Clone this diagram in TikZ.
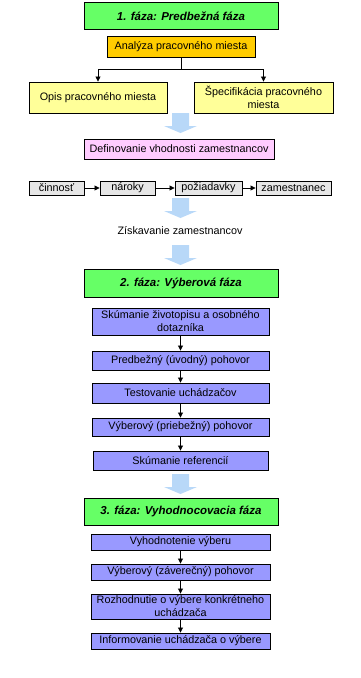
\documentclass[tikz,border=0pt]{standalone}
\usepackage{fontspec}
\setmainfont{Liberation Sans}
\usetikzlibrary{arrows.meta}
\definecolor{phasegreen}{HTML}{66FF66}
\definecolor{taskorange}{HTML}{FFCC00}
\definecolor{descyellow}{HTML}{FFFF99}
\definecolor{defpink}{HTML}{FFCCFF}
\definecolor{itemgray}{HTML}{E6E6E6}
\definecolor{stepblue}{HTML}{9999FF}
\definecolor{flowblue}{HTML}{B8D8F8}

\begin{document}
\begin{tikzpicture}[x=1pt, y=-1pt,
  phase/.style={draw=black, fill=phasegreen, line width=0.9pt, minimum width=194pt, minimum height=27pt, inner sep=0pt, font=\fontsize{11.5}{13}\selectfont\bfseries\itshape},
  box/.style={draw=black, line width=0.9pt, inner sep=0pt, align=center, font=\fontsize{10.8}{13}\selectfont},
  stepbox/.style={box, fill=stepblue, minimum width=177pt},
  evalbox/.style={box, fill=stepblue, minimum width=179pt, minimum height=16pt},
  itembox/.style={box, fill=itemgray, minimum height=14pt},
  arr/.style={-{Triangle[length=5pt,width=5pt]}, line width=0.8pt},
  flow/.style={fill=flowblue},
]
\useasboundingbox (0,0) rectangle (361,678);

% ── Phase 1 ──
\node[phase] (ph1) at (181,16) {1. fáza: Predbežná fáza};
\node[box, fill=taskorange, minimum width=148pt, minimum height=21pt] (ana) at (181,46.5) {Analýza pracovného miesta};
\node[box, fill=descyellow, minimum width=138pt, minimum height=31pt] (opis) at (98,97.5) {Opis pracovného miesta};
\node[box, fill=descyellow, minimum width=139pt, minimum height=31pt] (spec) at (263.5,97.5) {Špecifikácia pracovného\\miesta};

\draw[line width=0.8pt] (ana.south) -- ++(0,12) coordinate (split);
\draw[arr] (split) -| (opis.north);
\draw[arr] (split) -| (spec.north);

\node[box, fill=defpink, minimum width=190pt, minimum height=20pt] (def) at (179,149) {Definovanie vhodnosti zamestnancov};

% ── Requirement chain ──
\node[itembox, minimum width=55pt] (cin) at (56.5,188) {činnosť};
\node[itembox, minimum width=55pt] (nar) at (127.5,188) {nároky};
\node[itembox, minimum width=67pt] (poz) at (208.5,188) {požiadavky};
\node[itembox, minimum width=75pt] (zam) at (293.5,188) {zamestnanec};
\draw[arr] (cin) -- (nar);
\draw[arr] (nar) -- (poz);
\draw[arr] (poz) -- (zam);

\node[font=\fontsize{10.8}{13}\selectfont] (zisk) at (180,231) {Získavanie zamestnancov};

% ── Phase 2 ──
\node[phase, minimum height=28pt] (ph2) at (181,283) {2. fáza: Výberová fáza};
\node[stepbox, minimum height=27pt] (b1) at (180.5,321.5) {Skúmanie životopisu a osobného\\dotazníka};
\node[stepbox, minimum height=19pt] (b2) at (180.5,360.5) {Predbežný (úvodný) pohovor};
\node[stepbox, minimum height=20pt] (b3) at (180.5,393) {Testovanie uchádzačov};
\node[stepbox, minimum height=18pt] (b4) at (180.5,427) {Výberový (priebežný) pohovor};
\node[stepbox, minimum width=175pt, minimum height=19pt] (b5) at (180.5,460.5) {Skúmanie referencií};
\draw[arr] (b1) -- (b2);
\draw[arr] (b2) -- (b3);
\draw[arr] (b3) -- (b4);
\draw[arr] (b4) -- (b5);

% ── Phase 3 ──
\node[phase] (ph3) at (181,511.5) {3. fáza: Vyhodnocovacia fáza};
\node[evalbox] (c1) at (180.5,542) {Vyhodnotenie výberu};
\node[evalbox] (c2) at (180.5,572) {Výberový (záverečný) pohovor};
\node[evalbox, minimum height=25pt] (c3) at (180.5,606.5) {Rozhodnutie o výbere konkrétneho\\uchádzača};
\node[evalbox] (c4) at (180.5,641) {Informovanie uchádzača o výbere};
\draw[arr] (c1) -- (c2);
\draw[arr] (c2) -- (c3);
\draw[arr] (c3) -- (c4);

% ── Block arrows ──
\foreach \ya in {113,198,245,474}
  \fill[flow] (172,\ya) -- (189,\ya) -- (189,\ya+13) -- (197,\ya+13) -- (180.5,\ya+20) -- (164,\ya+13) -- (172,\ya+13) -- cycle;

\end{tikzpicture}
\end{document}
